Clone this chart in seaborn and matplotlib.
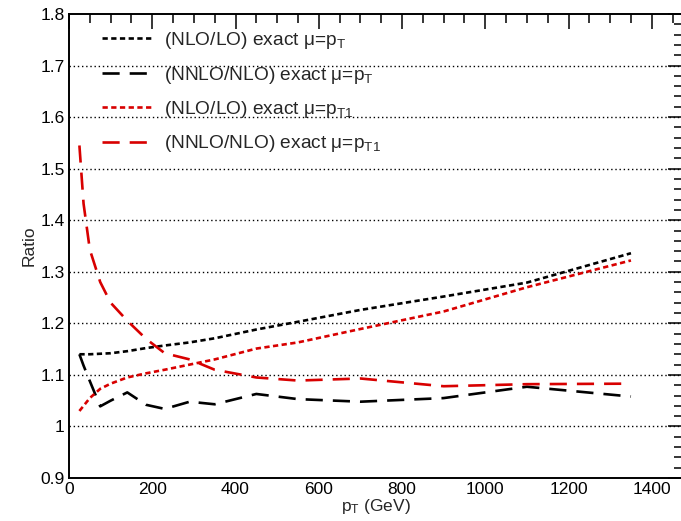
import matplotlib
matplotlib.use("Agg")
import matplotlib.pyplot as plt
import seaborn as sns
import numpy as np
from matplotlib.ticker import MultipleLocator

# ---- data ----
pt = [25, 35, 50, 75, 100, 140, 185, 230, 290, 350, 450, 550, 700, 900, 1100, 1350]
nlo_lo_pt = [1.140, 1.140, 1.140, 1.141, 1.142, 1.146, 1.152, 1.157, 1.163, 1.171,
             1.188, 1.203, 1.226, 1.252, 1.279, 1.336]
nnlo_nlo_pt = [1.140, 1.118, 1.088, 1.039, 1.050, 1.066, 1.042, 1.034, 1.048, 1.043,
               1.063, 1.053, 1.048, 1.055, 1.077, 1.058]
nlo_lo_pt1 = [1.030, 1.040, 1.055, 1.073, 1.083, 1.095, 1.103, 1.110, 1.120, 1.130,
              1.151, 1.163, 1.189, 1.223, 1.270, 1.322]
nnlo_nlo_pt1 = [1.545, 1.432, 1.343, 1.280, 1.240, 1.205, 1.170, 1.142, 1.130, 1.110,
                1.095, 1.089, 1.093, 1.078, 1.082, 1.083]

labels = ["(NLO/LO) exact μ=p$_{\\mathrm{T}}$",
          "(NNLO/NLO) exact μ=p$_{\\mathrm{T}}$",
          "(NLO/LO) exact μ=p$_{\\mathrm{T1}}$",
          "(NNLO/NLO) exact μ=p$_{\\mathrm{T1}}$"]

sns.set_style("white")
plt.rcParams['font.family'] = ['Liberation Sans', 'DejaVu Sans']
plt.rcParams['mathtext.fontset'] = 'custom'
plt.rcParams['mathtext.rm'] = 'Liberation Sans'
plt.rcParams['mathtext.it'] = 'Liberation Sans:italic'

fig = plt.figure(figsize=(6.81, 5.21), dpi=100)
ax = fig.add_axes([69/681, 1-478/521, (683-69)/681, (478-14)/521])

red = '#d80000'
dot = (0, (2.0, 1.3))
dash = (0, (6.5, 3.8))
series = [
    (nlo_lo_pt, 'black', dot),
    (nnlo_nlo_pt, 'black', dash),
    (nlo_lo_pt1, red, dot),
    (nnlo_nlo_pt1, red, dash),
]
for (vals, col, ls), lab in zip(series, labels):
    sns.lineplot(x=pt, y=vals, ax=ax, color=col, linestyle=ls, lw=1.9,
                 label=lab, errorbar=None, sort=False)

ax.set_xlim(0, 1475)
ax.set_ylim(0.9, 1.8)
ax.xaxis.set_major_locator(MultipleLocator(200))
ax.xaxis.set_minor_locator(MultipleLocator(50))
ax.yaxis.set_minor_locator(MultipleLocator(0.02))
ax.set_yticks(np.arange(0.9, 1.81, 0.1))
ax.set_yticklabels(["0.9", "1", "1.1", "1.2", "1.3", "1.4", "1.5", "1.6", "1.7", "1.8"])
ax.tick_params(which='both', direction='in', top=True, right=True, width=1.1,
               labelsize=12.5, colors='black')
ax.tick_params(which='major', length=11, pad=3)
ax.tick_params(which='minor', length=6.5)
for s in ax.spines.values():
    s.set_color('black')
    s.set_linewidth(1.4)

for yv in np.arange(1.0, 1.75, 0.1):
    ax.axhline(yv, color='black', lw=1.0, linestyle=(0, (1, 2)), zorder=0)

ax.set_xlabel("p$_{\\mathrm{T}}$ (GeV)", fontsize=12.5, labelpad=0)
ax.set_ylabel("Ratio", fontsize=12.5, labelpad=3)

ax.legend(loc='upper left', bbox_to_anchor=(0.035, 0.99), frameon=False,
          fontsize=13.8, handlelength=2.7, handletextpad=0.55, labelspacing=0.7,
          borderaxespad=0.2)

fig.savefig("out.png", dpi=100)
